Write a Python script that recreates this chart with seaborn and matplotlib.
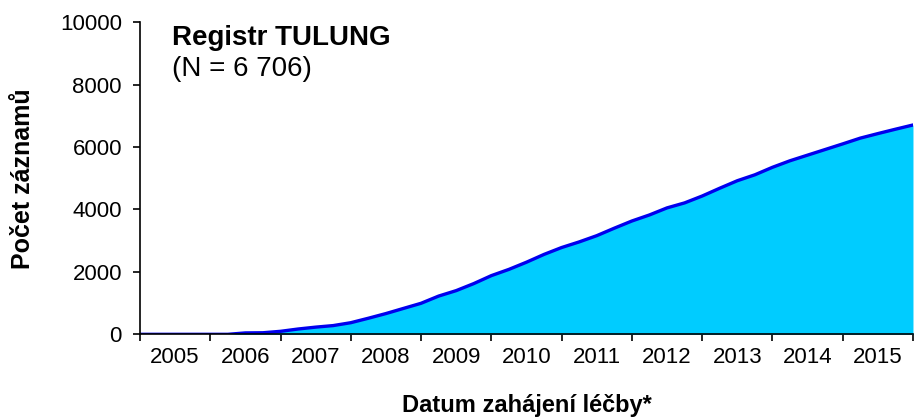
import numpy as np
import pandas as pd
import matplotlib
matplotlib.use("Agg")
import matplotlib.pyplot as plt
import seaborn as sns

# cumulative count of records
years = [2005.0, 2005.25, 2005.5, 2005.75,
         2006.0, 2006.25, 2006.5, 2006.75,
         2007.0, 2007.25, 2007.5, 2007.75,
         2008.0, 2008.25, 2008.5, 2008.75,
         2009.0, 2009.25, 2009.5, 2009.75,
         2010.0, 2010.25, 2010.5, 2010.75,
         2011.0, 2011.25, 2011.5, 2011.75,
         2012.0, 2012.25, 2012.5, 2012.75,
         2013.0, 2013.25, 2013.5, 2013.75,
         2014.0, 2014.25, 2014.5, 2014.75,
         2015.0, 2015.25, 2015.5, 2015.75,
         2016.0]
counts = [0, 0, 0, 0,
          0, 0, 45, 50,
          96, 170, 230, 280,
          372, 515, 665, 830,
          994, 1225, 1400, 1625,
          1880, 2080, 2310, 2560,
          2780, 2960, 3160, 3400,
          3630, 3824, 4050, 4210,
          4430, 4680, 4920, 5110,
          5350, 5560, 5740, 5920,
          6100, 6285, 6430, 6570,
          6706]
year_labels = [str(y) for y in range(2005, 2016)]
yticks = [0, 2000, 4000, 6000, 8000, 10000]

sns.set_style("ticks")
plt.rcParams['font.family'] = ['Liberation Sans', 'DejaVu Sans']
plt.rcParams['text.color'] = 'black'
plt.rcParams['axes.labelcolor'] = 'black'
plt.rcParams['xtick.color'] = 'black'
plt.rcParams['ytick.color'] = 'black'

df = pd.DataFrame({"rok": years, "pocet": counts})

fig = plt.figure(figsize=(9.16, 4.18), dpi=100)
ax = fig.add_axes([0.1528, 0.2002, 0.8439, 0.7468])

ax.fill_between(df["rok"], 0, df["pocet"], color="#00CCFF", linewidth=0)
sns.lineplot(data=df, x="rok", y="pocet", ax=ax, color="#0000EE", linewidth=2.4)

ax.set_xlim(2005, 2016)
ax.set_ylim(0, 10000)
ax.set_yticks(yticks)
ax.set_yticklabels([str(t) for t in yticks], fontsize=16)

# tick marks at year boundaries, labels centred in each year
ax.set_xticks(range(2005, 2017))
ax.set_xticklabels([])
ax.set_xticks([y + 0.5 for y in range(2005, 2016)], minor=True)
ax.set_xticklabels(year_labels, minor=True, fontsize=16)
ax.tick_params(axis="x", which="minor", length=0, pad=9)
ax.tick_params(axis="x", which="major", length=5, width=1.2)
ax.tick_params(axis="y", length=5, width=1.2, pad=8)

for s in ["top", "right"]:
    ax.spines[s].set_visible(False)
for s in ["left", "bottom"]:
    ax.spines[s].set_color("black")
    ax.spines[s].set_linewidth(1.2)

ax.set_xlabel("Datum zahájení léčby*", fontsize=17, fontweight="bold", labelpad=19)
ax.set_ylabel("Počet záznamů", fontsize=18, fontweight="bold", labelpad=18)

ax.text(0.041, 0.926, "Registr TULUNG", transform=ax.transAxes, fontsize=20,
        fontweight="bold", va="baseline", ha="left")
ax.text(0.041, 0.827, "(N = 6 706)", transform=ax.transAxes, fontsize=20,
        va="baseline", ha="left")

fig.savefig("out.png", dpi=100)
